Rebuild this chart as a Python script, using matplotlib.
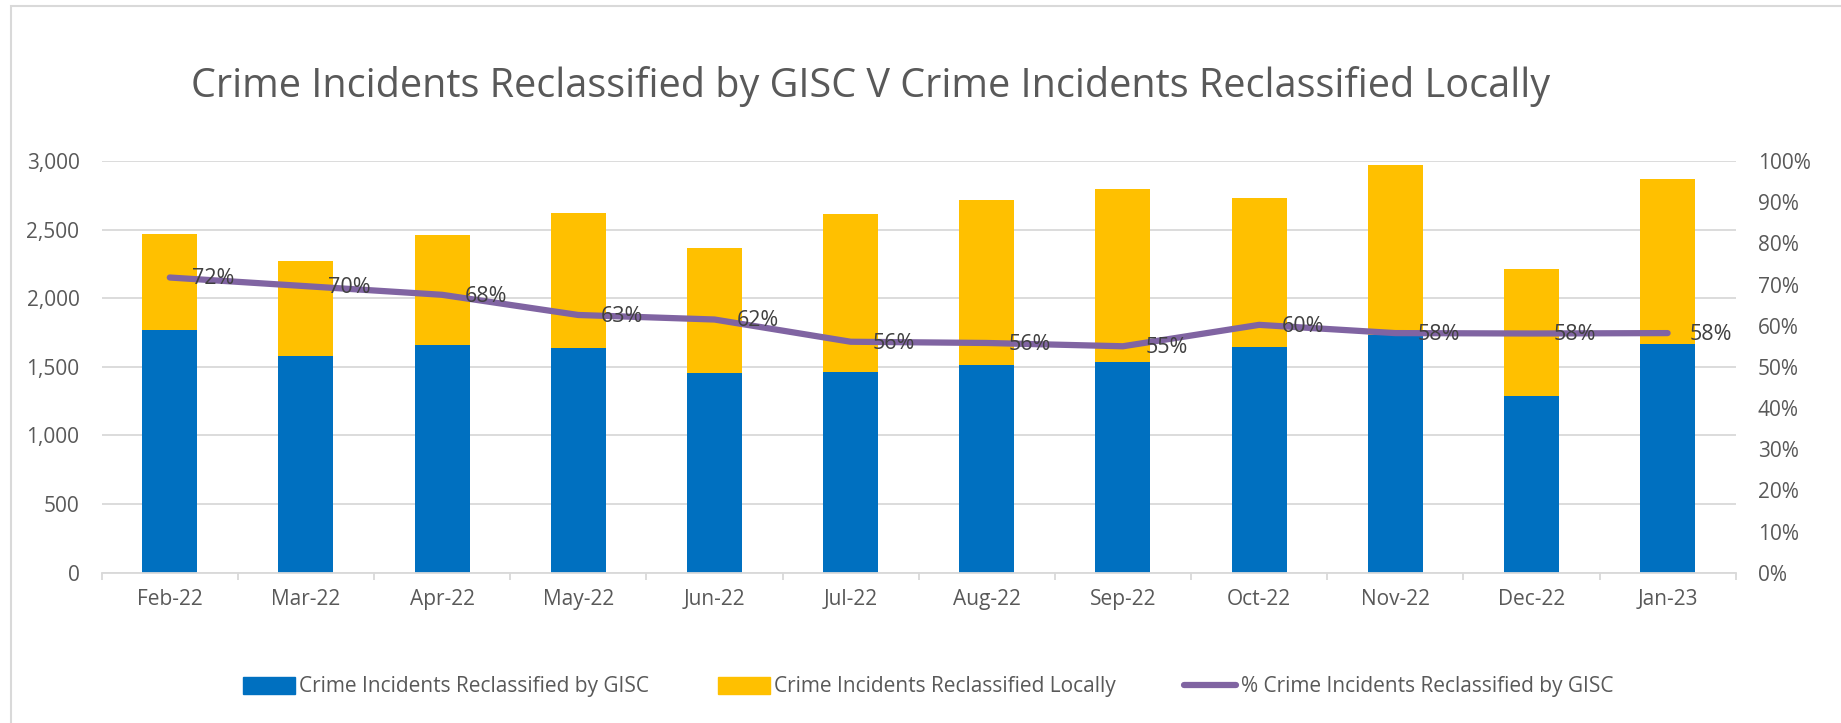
import matplotlib.pyplot as plt
from matplotlib.patches import Patch, Rectangle
from matplotlib.lines import Line2D
import numpy as np

plt.rcParams['font.family'] = ['Open Sans', 'DejaVu Sans']

months = ["Feb-22", "Mar-22", "Apr-22", "May-22", "Jun-22", "Jul-22",
          "Aug-22", "Sep-22", "Oct-22", "Nov-22", "Dec-22", "Jan-23"]
gisc = [1767, 1582, 1662, 1640, 1456, 1465, 1516, 1536, 1645, 1730, 1286, 1669]
local = [699, 690, 799, 979, 911, 1147, 1200, 1258, 1086, 1241, 927, 1198]
pct_gisc = [0.717, 0.696, 0.675, 0.626, 0.615, 0.561, 0.558, 0.550, 0.602, 0.582, 0.581, 0.582]

BLUE = "#0070C0"
GOLD = "#FFC000"
PURPLE = "#8064A2"
TXT = "#595959"
GRID = "#D9D9D9"

fig = plt.figure(figsize=(18.41, 7.23), dpi=100)
ax = fig.add_axes([0.05524, 0.2079, 0.88756, 0.5694])
x = np.arange(len(months))

ax.bar(x, gisc, width=0.404, color=BLUE, zorder=2)
ax.bar(x, local, width=0.404, bottom=gisc, color=GOLD, zorder=2)

ax.set_ylim(0, 3000)
ax.set_xlim(-0.5, len(months) - 0.5)
ax.set_yticks(range(0, 3001, 500))
ax.set_yticklabels([f"{v:,}" for v in range(0, 3001, 500)])
ax.yaxis.grid(True, color=GRID, linewidth=1.3)
ax.set_axisbelow(True)
ax.tick_params(axis='y', length=0, pad=16, labelsize=15, labelcolor=TXT)

# boundaries get the tick marks, centers get the labels
ax.set_xticks(np.arange(-0.5, len(months), 1.0))
ax.set_xticklabels([])
ax.set_xticks(x, minor=True)
ax.set_xticklabels(months, minor=True)
ax.tick_params(axis='x', which='major', length=5, width=1.3, color=GRID, direction='out')
ax.tick_params(axis='x', which='minor', length=0, pad=12, labelsize=15, labelcolor=TXT)

for s in ["top", "left", "right"]:
    ax.spines[s].set_visible(False)
ax.spines["bottom"].set_color(GRID)
ax.spines["bottom"].set_linewidth(1.3)

ax2 = ax.twinx()
ax2.plot(x, pct_gisc, color=PURPLE, linewidth=4.5, solid_capstyle='round', zorder=3)
ax2.set_ylim(0, 1)
ax2.set_yticks(np.arange(0, 1.01, 0.1))
ax2.set_yticklabels([f"{int(round(v * 100))}%" for v in np.arange(0, 1.01, 0.1)])
ax2.tick_params(axis='y', length=0, pad=16, labelsize=15, labelcolor=TXT)
for s in ax2.spines.values():
    s.set_visible(False)

for xi, p in zip(x, pct_gisc):
    ax2.annotate(f"{p * 100:.0f}%", (xi, p), xytext=(16, -1), textcoords='offset points',
                 ha='left', va='center', fontsize=15.5, color="#404040")

fig.text(0.473, 0.8663, "Crime Incidents Reclassified by GISC V Crime Incidents Reclassified Locally",
         ha='center', va='baseline', fontsize=28.5, color=TXT)

handles = [Patch(color=BLUE), Patch(color=GOLD),
           Line2D([0], [0], color=PURPLE, linewidth=4.5, solid_capstyle='round')]
labels = ["Crime Incidents Reclassified by GISC", "Crime Incidents Reclassified Locally",
          "% Crime Incidents Reclassified by GISC"]
leg = fig.legend(handles, labels, loc='center', bbox_to_anchor=(0.504, 0.0498), ncol=3,
                 frameon=False, fontsize=15, handlelength=2.5, handleheight=0.9,
                 handletextpad=0.2, columnspacing=3.3)
for t in leg.get_texts():
    t.set_color(TXT)

fig.patches.append(Rectangle((0.006, -0.05), 1.1, 0.992 + 0.05, transform=fig.transFigure,
                             fill=False, edgecolor=GRID, linewidth=1.5))

fig.savefig("out.png", dpi=100)
